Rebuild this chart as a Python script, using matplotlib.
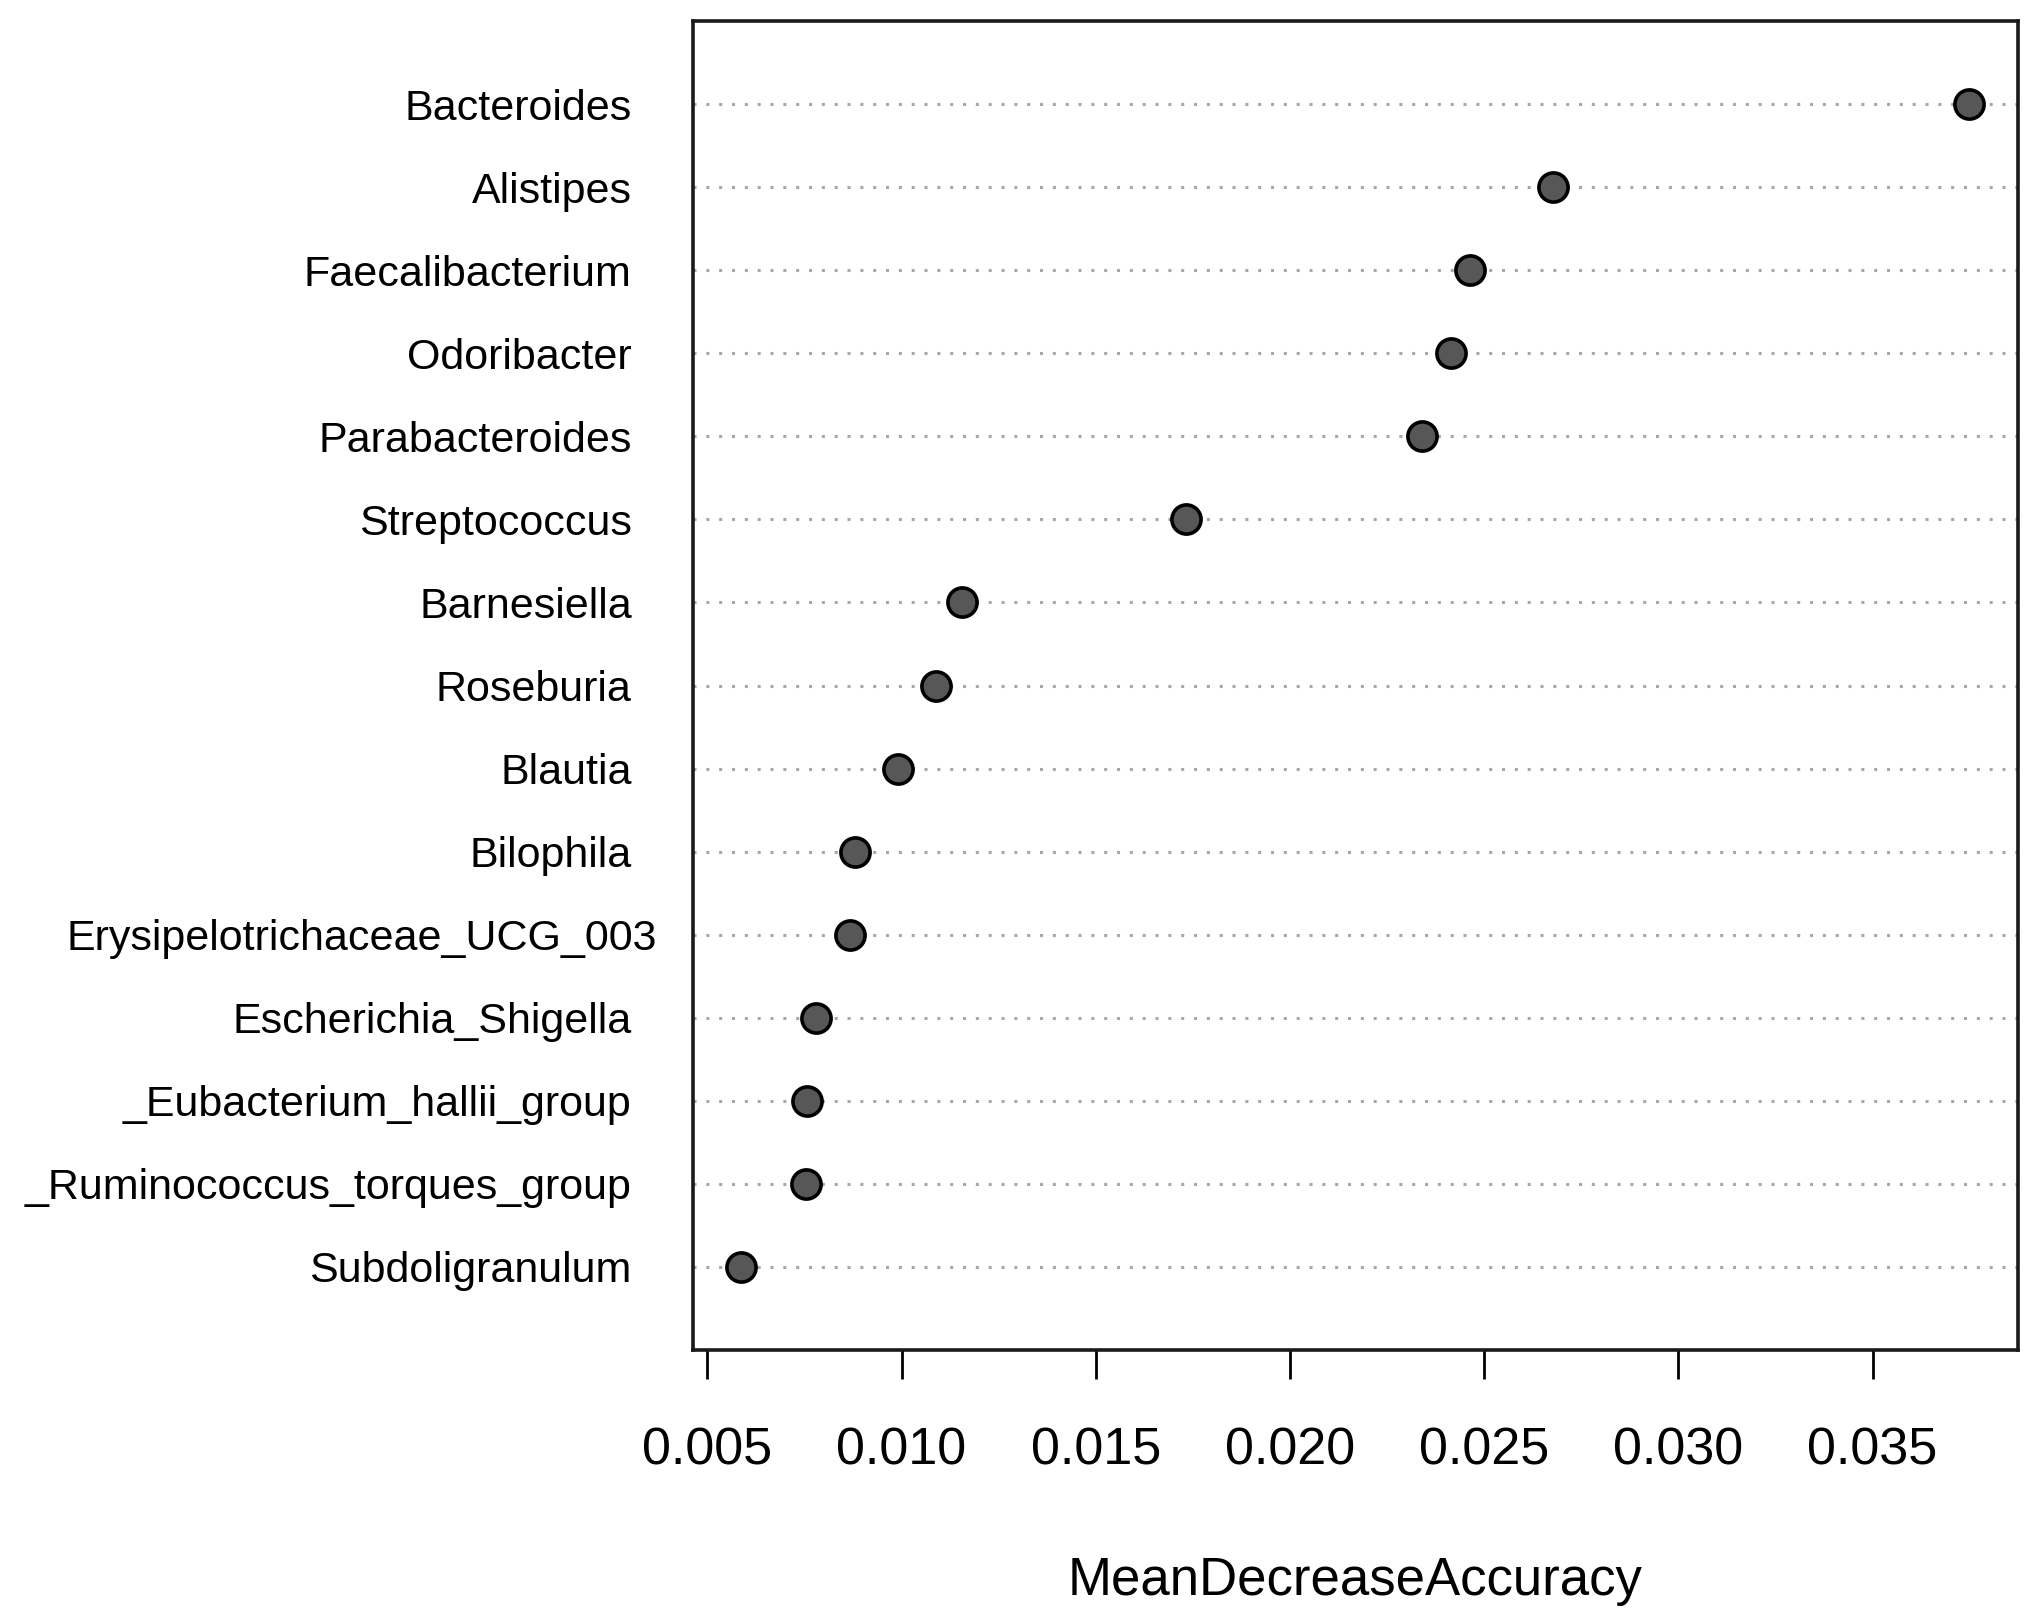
import matplotlib
matplotlib.use("Agg")
import matplotlib.pyplot as plt
import matplotlib.transforms as mtransforms

# importance values, top to bottom
genera = ['Bacteroides', 'Alistipes', 'Faecalibacterium', 'Odoribacter',
          'Parabacteroides', 'Streptococcus', 'Barnesiella', 'Roseburia',
          'Blautia', 'Bilophila', 'Erysipelotrichaceae_UCG_003',
          'Escherichia_Shigella', '_Eubacterium_hallii_group',
          '_Ruminococcus_torques_group', 'Subdoligranulum']
mda = [0.03747, 0.02678, 0.02464, 0.02414, 0.02341, 0.01733, 0.01155,
       0.01088, 0.00991, 0.00881, 0.00867, 0.00781, 0.00757, 0.00754,
       0.00587]
xticks = [0.005, 0.010, 0.015, 0.020, 0.025, 0.030, 0.035]
xticklabels = ['0.005', '0.010', '0.015', '0.020', '0.025', '0.030', '0.035']

plt.rcParams['font.family'] = ['Liberation Sans', 'DejaVu Sans']

fig = plt.figure(figsize=(20.35, 16.2), dpi=100)
ax = fig.add_axes([0.3405, 0.1667, 0.6511, 0.8203])

n = len(genera)
ypos = list(range(n, 0, -1))

for y in ypos:
    ax.axhline(y, color='#a8a8a8', lw=2.2, linestyle=(0, (1, 3.2)), zorder=1)

ax.plot(mda, ypos, linestyle='none', marker='o', markersize=21,
        markerfacecolor='#575757', markeredgecolor='black',
        markeredgewidth=2.6, zorder=3)

ax.set_xlim(0.00463, 0.03874)
ax.set_ylim(0, n + 1)

ax.set_yticks(ypos)
ax.set_yticklabels(genera, fontsize=31)
ax.tick_params(axis='y', length=0, pad=44)

# the long label sits a bit further right in the original
for lab in ax.get_yticklabels():
    if lab.get_text() == 'Erysipelotrichaceae_UCG_003':
        off = mtransforms.ScaledTranslation(18 / 72, 0, fig.dpi_scale_trans)
        lab.set_transform(lab.get_transform() + off)

ax.set_xticks(xticks)
ax.set_xticklabels(xticklabels, fontsize=37.5)
ax.tick_params(axis='x', length=21, width=2, direction='out', pad=34,
               color='black')

ax.set_xlabel('MeanDecreaseAccuracy', fontsize=38, labelpad=58)

for s in ax.spines.values():
    s.set_linewidth(2.6)
    s.set_color('#1a1a1a')

fig.savefig('out.png', dpi=100)
